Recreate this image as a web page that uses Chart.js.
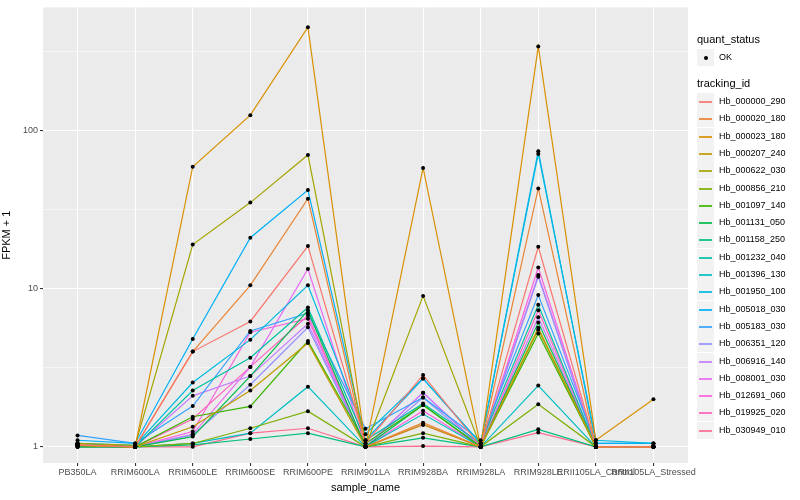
<!DOCTYPE html>
<html>
<head>
<meta charset="utf-8">
<script src="https://cdn.jsdelivr.net/npm/chart.js@4.4.0/dist/chart.umd.min.js"></script>
<style>
  body { margin: 0; background: #fff; font-family: "Liberation Sans", Arial, sans-serif; }
  #wrap { position: relative; width: 800px; height: 500px; }
  #legend { position: absolute; left: 0; top: 0; width: 800px; height: 500px; pointer-events: none; }
  .ttl { position: absolute; left: 697px; font-size: 11px; color: #000; }
  .key { position: absolute; left: 697px; width: 17px; height: 17px; background: #F2F2F2; }
  .key span { position: absolute; left: 2px; width: 13px; top: 8px; height: 2px; opacity: 0.85; }
  .key b { position: absolute; left: 7px; top: 7px; width: 4px; height: 4px; border-radius: 2px; background: #000; }
  .lab { position: absolute; left: 719px; font-size: 9px; color: #000; line-height: 17px; }
</style>
</head>
<body>
<div id="wrap">
  <canvas id="myChart" width="800" height="500"></canvas>
  <div id="legend"></div>
</div>
<script>
const samples = ['PB350LA', 'RRIM600LA', 'RRIM600LE', 'RRIM600SE', 'RRIM600PE', 'RRIM901LA',
  'RRIM928BA', 'RRIM928LA', 'RRIM928LE', 'RRII105LA_Control', 'RRII105LA_Stressed'];

const ids = ['Hb_000000_290', 'Hb_000020_180', 'Hb_000023_180', 'Hb_000207_240', 'Hb_000622_030',
  'Hb_000856_210', 'Hb_001097_140', 'Hb_001131_050', 'Hb_001158_250', 'Hb_001232_040',
  'Hb_001396_130', 'Hb_001950_100', 'Hb_005018_030', 'Hb_005183_030', 'Hb_006351_120',
  'Hb_006916_140', 'Hb_008001_030', 'Hb_012691_060', 'Hb_019925_020', 'Hb_030949_010'];

const colores = ['#F8766D', '#EA8331', '#D89000', '#C09B00', '#A3A500', '#7CAE00', '#39B600',
  '#00BB4E', '#00BF7D', '#00C1A3', '#00BFC4', '#00BAE0', '#00B0F6', '#35A2FF', '#9590FF',
  '#C77CFF', '#E76BF3', '#FA62DB', '#FF62BC', '#FF6C91'];

// FPKM + 1 por muestra (mismo orden que samples)
const hb000000_290 = [1.03, 1.00, 4.0, 6.2, 18.6, 1.05, 2.84, 1.00, 18.4, 1.00, 1.00];
const hb000020_180 = [1.03, 1.00, 4.0, 10.5, 37, 1.00, 1.42, 1.00, 43, 1.00, 1.00];
const hb000023_180 = [1.02, 1.00, 59, 125, 450, 1.00, 58, 1.00, 340, 1.10, 2.0];
const hb000207_240 = [1.02, 1.00, 1.34, 2.27, 4.53, 1.00, 1.38, 1.00, 5.65, 1.00, 1.00];
const hb000622_030 = [1.05, 1.02, 19, 35, 70, 1.00, 9.0, 1.00, 5.5, 1.00, 1.00];
const hb000856_210 = [1.02, 1.00, 1.05, 1.31, 1.68, 1.00, 1.22, 1.00, 1.86, 1.00, 1.00];
const hb001097_140 = [1.02, 1.00, 1.55, 1.8, 4.66, 1.05, 1.84, 1.00, 5.2, 1.00, 1.00];
const hb001131_050 = [1.00, 1.00, 1.16, 2.8, 7.3, 1.00, 1.84, 1.00, 6.1, 1.00, 1.00];
const hb001158_250 = [1.00, 1.00, 1.03, 1.12, 1.22, 1.00, 1.14, 1.00, 1.29, 1.00, 1.00];
const hb001232_040 = [1.05, 1.00, 2.27, 3.66, 7.6, 1.10, 1.88, 1.05, 7.9, 1.00, 1.00];
const hb001396_130 = [1.05, 1.00, 1.05, 1.22, 2.4, 1.00, 1.61, 1.00, 2.44, 1.00, 1.00];
const hb001950_100 = [1.05, 1.02, 2.55, 4.76, 10.5, 1.20, 2.7, 1.05, 71, 1.10, 1.05];
const hb005018_030 = [1.10, 1.05, 4.8, 21, 42, 1.10, 2.7, 1.05, 74, 1.05, 1.05];
const hb005183_030 = [1.18, 1.05, 1.81, 5.4, 7.0, 1.30, 2.05, 1.10, 9.1, 1.05, 1.05];
const hb006351_120 = [1.02, 1.00, 1.19, 2.47, 5.7, 1.00, 2.05, 1.00, 11.9, 1.00, 1.00];
const hb006916_140 = [1.03, 1.00, 2.1, 2.8, 6.0, 1.00, 2.2, 1.00, 6.6, 1.00, 1.00];
const hb008001_030 = [1.02, 1.00, 1.2, 3.2, 13.3, 1.00, 2.2, 1.00, 12.2, 1.00, 1.00];
const hb012691_060 = [1.02, 1.00, 1.25, 5.3, 6.45, 1.00, 1.69, 1.00, 13.6, 1.00, 1.00];
const hb019925_020 = [1.00, 1.00, 1.5, 3.2, 6.77, 1.00, 1.38, 1.00, 7.3, 1.00, 1.00];
const hb030949_010 = [1.00, 1.00, 1.00, 1.22, 1.31, 1.00, 1.01, 1.00, 1.23, 1.00, 1.00];

const valores = [hb000000_290, hb000020_180, hb000023_180, hb000207_240, hb000622_030,
  hb000856_210, hb001097_140, hb001131_050, hb001158_250, hb001232_040, hb001396_130,
  hb001950_100, hb005018_030, hb005183_030, hb006351_120, hb006916_140, hb008001_030,
  hb012691_060, hb019925_020, hb030949_010];

const yMajor = [1, 10, 100];
const yBreaks = [1, 3.1623, 10, 31.623, 100, 316.23];

// fondo gris del panel
const panelFondo = {
  id: 'panelFondo',
  beforeDraw(chart) {
    const { ctx, chartArea: a } = chart;
    ctx.save();
    ctx.fillStyle = '#EBEBEB';
    ctx.fillRect(a.left, a.top, a.right - a.left, a.bottom - a.top);
    ctx.restore();
  }
};

// puntos negros encima de todas las lineas
const puntos = {
  id: 'puntos',
  afterDatasetsDraw(chart) {
    const ctx = chart.ctx;
    ctx.save();
    ctx.fillStyle = '#000';
    chart.data.datasets.forEach((ds, i) => {
      chart.getDatasetMeta(i).data.forEach(el => {
        ctx.beginPath();
        ctx.arc(el.x, el.y, 2, 0, Math.PI * 2);
        ctx.fill();
      });
    });
    ctx.restore();
  }
};

const ctx = document.getElementById('myChart').getContext('2d');
const myChart = new Chart(ctx, {
  type: 'line',
  data: {
    datasets: valores.map((serie, i) => ({
      label: ids[i],
      data: serie.map((v, j) => ({ x: j, y: v })),
      borderColor: colores[i],
      backgroundColor: colores[i],
      borderWidth: 1.2,
      pointRadius: 0,
      tension: 0,
      fill: false
    }))
  },
  options: {
    responsive: false,
    animation: false,
    layout: { padding: { top: 3, right: 112, left: 0, bottom: 0 } },
    plugins: { legend: { display: false }, tooltip: { enabled: false } },
    scales: {
      x: {
        type: 'linear',
        min: -0.6,
        max: 10.6,
        afterBuildTicks: scale => { scale.ticks = samples.map((s, i) => ({ value: i })); },
        afterFit: scale => { scale.height = 37; },
        ticks: {
          callback: v => samples[v],
          autoSkip: false, maxRotation: 0, minRotation: 0,
          color: '#4D4D4D', font: { size: 9, family: '"Liberation Sans", Arial' }, padding: 1
        },
        grid: { color: '#FFFFFF', lineWidth: 1.1, tickColor: '#333333', tickLength: 3 },
        border: { display: false },
        title: { display: true, text: 'sample_name', color: '#000', font: { size: 11, family: '"Liberation Sans", Arial' }, padding: { top: 0, bottom: 5 } }
      },
      y: {
        type: 'logarithmic',
        min: 0.79,
        max: 600,
        afterBuildTicks: scale => { scale.ticks = yBreaks.map(v => ({ value: v })); },
        afterFit: scale => { scale.width = 43; },
        ticks: {
          callback: v => yMajor.includes(v) ? String(v) : '',
          color: '#4D4D4D', font: { size: 9, family: '"Liberation Sans", Arial' }, padding: 2
        },
        grid: {
          color: '#FFFFFF',
          lineWidth: c => yMajor.includes(c.tick && c.tick.value) ? 1.1 : 0.5,
          tickColor: c => yMajor.includes(c.tick && c.tick.value) ? '#333333' : 'rgba(0,0,0,0)',
          tickLength: 3
        },
        border: { display: false },
        title: { display: true, text: 'FPKM + 1', color: '#000', font: { size: 11, family: '"Liberation Sans", Arial' }, padding: { top: 0, bottom: 4 } }
      }
    }
  },
  plugins: [panelFondo, puntos]
});

// leyenda estilo ggplot
const leg = document.getElementById('legend');
let html = '<div class="ttl" style="top:33px">quant_status</div>';
html += '<div class="key" style="top:49px"><b></b></div><div class="lab" style="top:49px">OK</div>';
html += '<div class="ttl" style="top:77px">tracking_id</div>';
ids.forEach((id, i) => {
  const top = Math.round(93 + i * 17.3);
  html += `<div class="key" style="top:${top}px"><span style="background:${colores[i]}"></span></div>`;
  html += `<div class="lab" style="top:${top}px">${id}</div>`;
});
leg.innerHTML = html;
</script>
</body>
</html>
